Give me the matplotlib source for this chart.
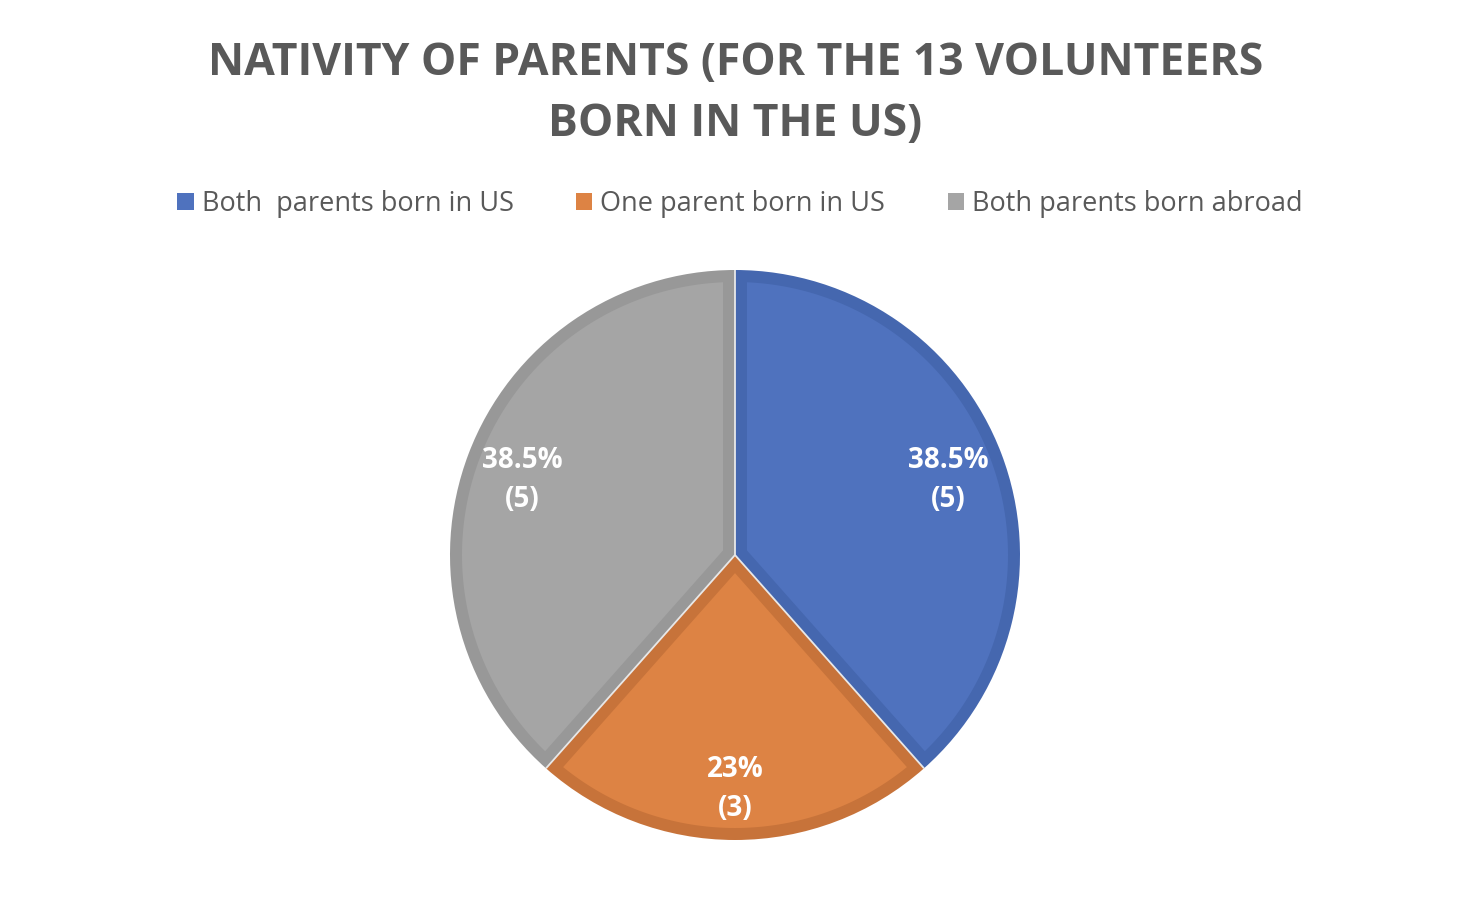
import matplotlib
matplotlib.use('agg')
import matplotlib.pyplot as plt
from matplotlib.patches import Patch, Polygon
import numpy as np

labels = ["Both  parents born in US", "One parent born in US", "Both parents born abroad"]
counts = [5, 3, 5]
pct_text = ["38.5%", "23%", "38.5%"]
fill_colors = ["#4F72BE", "#DD8344", "#A5A5A5"]
edge_colors = ["#4567AF", "#C7733A", "#989898"]

plt.rcParams['font.family'] = ['Open Sans', 'DejaVu Sans']

fig = plt.figure(figsize=(14.8, 9.14), dpi=100)
ax = fig.add_axes([0, 0, 1, 1])

cx, cy, R = 735, 914 - 555, 285
border = 12

# outer (darker) slices
wedges, _ = ax.pie(counts, colors=edge_colors, startangle=90, counterclock=False,
                   center=(cx, cy), radius=R, frame=True,
                   wedgeprops=dict(linewidth=0))
ax.set_xlim(0, 1480)
ax.set_ylim(0, 914)
ax.set_aspect('equal')
ax.axis('off')

# inner lighter fill, inset by the border width
for w, fc in zip(wedges, fill_colors):
    t1, t2 = np.deg2rad(w.theta1), np.deg2rad(w.theta2)
    half = (t2 - t1) / 2
    mid = t1 + half
    shift = border / np.sin(half)
    ax_x = cx + shift * np.cos(mid)
    ax_y = cy + shift * np.sin(mid)
    phi = np.arcsin(border / (R - border))
    arc = np.linspace(t1 + phi, t2 - phi, 200)
    xs = np.concatenate([[ax_x], cx + (R - border) * np.cos(arc)])
    ys = np.concatenate([[ax_y], cy + (R - border) * np.sin(arc)])
    ax.add_patch(Polygon(np.column_stack([xs, ys]), closed=True, facecolor=fc, edgecolor='none'))

# thin light separators between slices
for w in wedges:
    t = np.deg2rad(w.theta1)
    ax.plot([cx, cx + R * np.cos(t)], [cy, cy + R * np.sin(t)], color='#E8E8E8', lw=1.3,
            solid_capstyle='butt')

for w, p, c in zip(wedges, pct_text, counts):
    ang = np.deg2rad((w.theta1 + w.theta2) / 2)
    r = 0.8 * R
    ax.text(cx + r * np.cos(ang), cy + r * np.sin(ang) - 6, f"{p}\n({c})",
            ha='center', va='center', color='white', fontsize=20, fontweight='bold',
            linespacing=1.45)

fig.text(0.497, 1 - 94 / 914, "NATIVITY OF PARENTS (FOR THE 13 VOLUNTEERS\nBORN IN THE US)",
         ha='center', va='center', fontsize=32, fontweight='bold', color='#595959',
         linespacing=1.45)

handles = [Patch(facecolor=c, edgecolor='none') for c in fill_colors]
fig.legend(handles, labels, loc='center', bbox_to_anchor=(0.5, 1 - 204 / 914), ncol=3,
           frameon=False, fontsize=19.5, labelcolor='#595959', handlelength=0.6,
           handleheight=0.6, handletextpad=0.3, columnspacing=2.3)

plt.savefig('out.png', dpi=100)
